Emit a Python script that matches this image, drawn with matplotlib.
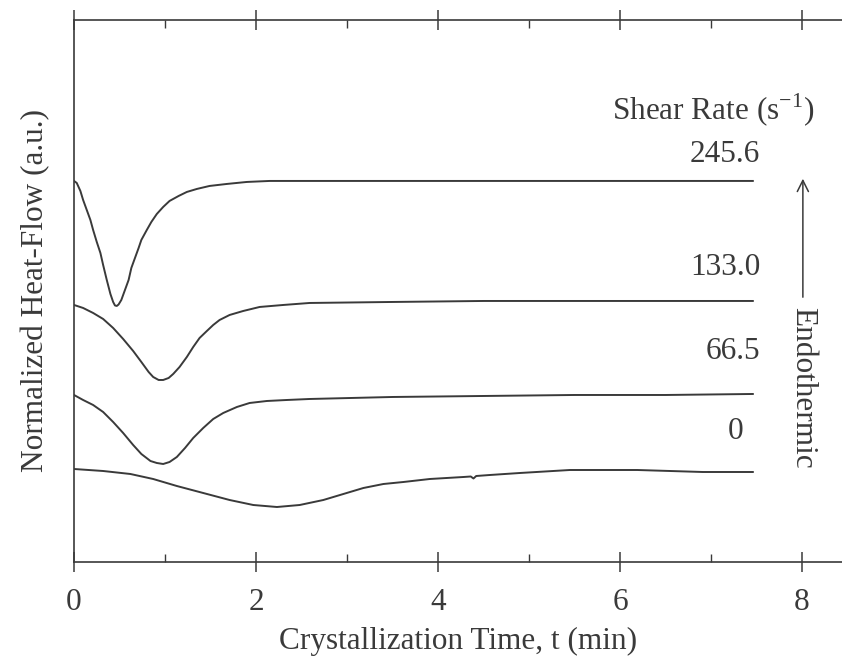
import matplotlib
matplotlib.use("Agg")
import matplotlib.pyplot as plt
from matplotlib.ticker import MultipleLocator

plt.rcParams["font.family"] = ["Liberation Serif", "DejaVu Serif"]
plt.rcParams["mathtext.fontset"] = "custom"
plt.rcParams["mathtext.rm"] = "Liberation Serif"

INK = "#3a3a3a"
FS = 22.5

# shear rate 245.6 s^-1
t_2456 = [0.00, 0.03, 0.07, 0.10, 0.14, 0.18, 0.21, 0.25, 0.29, 0.32, 0.36, 0.40,
          0.43, 0.45, 0.47, 0.49, 0.52, 0.56, 0.60, 0.63, 0.67, 0.71, 0.74, 0.80,
          0.85, 0.91, 0.98, 1.05, 1.15, 1.24, 1.35, 1.49, 1.68, 1.90, 2.15, 2.6,
          3.5, 4.5, 5.5, 6.5, 7.46]
h_2456 = [3.81, 3.79, 3.71, 3.62, 3.52, 3.42, 3.32, 3.20, 3.09, 2.97, 2.82, 2.68,
          2.60, 2.565, 2.56, 2.575, 2.62, 2.72, 2.82, 2.94, 3.04, 3.14, 3.22, 3.32,
          3.40, 3.48, 3.55, 3.61, 3.66, 3.70, 3.73, 3.76, 3.78, 3.80, 3.81, 3.81,
          3.81, 3.81, 3.81, 3.81, 3.81]

# shear rate 133.0 s^-1
t_1330 = [0.00, 0.10, 0.21, 0.32, 0.43, 0.54, 0.65, 0.74, 0.82, 0.87, 0.93, 0.98,
          1.04, 1.09, 1.16, 1.24, 1.31, 1.38, 1.46, 1.53, 1.60, 1.71, 1.86, 2.04,
          2.30, 2.59, 3.5, 4.5, 5.5, 6.5, 7.46]
h_1330 = [2.57, 2.54, 2.49, 2.43, 2.34, 2.23, 2.11, 2.00, 1.90, 1.85, 1.82, 1.82,
          1.84, 1.88, 1.95, 2.05, 2.15, 2.24, 2.31, 2.37, 2.42, 2.47, 2.51, 2.55,
          2.57, 2.59, 2.60, 2.61, 2.61, 2.61, 2.61]

# shear rate 66.5 s^-1
t_665 = [0.00, 0.10, 0.21, 0.32, 0.43, 0.54, 0.65, 0.74, 0.84, 0.91, 0.98, 1.05,
         1.13, 1.22, 1.31, 1.42, 1.53, 1.64, 1.79, 1.93, 2.12, 2.34, 2.59, 3.5,
         4.5, 5.5, 6.5, 7.46]
h_665 = [1.67, 1.62, 1.57, 1.50, 1.40, 1.29, 1.17, 1.08, 1.01, 0.99, 0.98, 1.00,
         1.05, 1.14, 1.24, 1.34, 1.43, 1.49, 1.55, 1.59, 1.61, 1.62, 1.63, 1.65,
         1.66, 1.67, 1.67, 1.68]

# quiescent (0 s^-1), small glitch near 4.4 min
t_0 = [0.00, 0.32, 0.62, 0.87, 1.13, 1.42, 1.71, 1.97, 2.23, 2.48, 2.74, 2.96,
       3.18, 3.40, 3.62, 3.91, 4.28, 4.36, 4.39, 4.42, 4.57, 4.90, 5.45, 6.19,
       6.91, 7.46]
h_0 = [0.93, 0.91, 0.88, 0.83, 0.76, 0.69, 0.62, 0.57, 0.55, 0.57, 0.62, 0.68,
       0.74, 0.78, 0.80, 0.83, 0.85, 0.855, 0.835, 0.86, 0.87, 0.89, 0.92, 0.92,
       0.90, 0.90]

curves = [(t_2456, h_2456), (t_1330, h_1330), (t_665, h_665), (t_0, h_0)]
rate_labels = ["245.6", "133.0", "66.5", "0"]
label_x = [7.54, 7.54, 7.54, 7.36]
label_y = [4.07, 2.94, 2.10, 1.30]

fig = plt.figure(figsize=(8.42, 6.64), dpi=100)
ax = fig.add_axes([0.0879, 0.1536, 0.9121, 0.8164])

for (t, h) in curves:
    ax.plot(t, h, color=INK, lw=1.4, solid_joinstyle="round")

for lab, x, y in zip(rate_labels, label_x, label_y):
    ax.text(x, y, lab, ha="right", va="center", fontsize=FS, color=INK)

ax.text(7.02, 4.52, r"Shear Rate (s$^{\mathregular{-1}}$)", ha="center", va="center",
        fontsize=FS, color=INK)

ax.annotate("", xy=(8.01, 3.86), xytext=(8.01, 2.62),
            arrowprops=dict(arrowstyle="->", color=INK, lw=1.1, mutation_scale=20))
ax.text(8.01, 1.74, "Endothermic", rotation=270, ha="center", va="center",
        fontsize=FS, color=INK)

ax.set_xlim(0, 8.44)
ax.set_ylim(0, 5.42)
ax.set_yticks([])
ax.xaxis.set_major_locator(MultipleLocator(2))
ax.xaxis.set_minor_locator(MultipleLocator(1))
ax.tick_params(axis="x", which="major", direction="inout", length=14, width=1.1,
               top=True, labelsize=FS, colors=INK, pad=12)
ax.tick_params(axis="x", which="minor", direction="in", length=6, width=1.0, top=True,
               colors=INK)
ax.spines["right"].set_visible(False)
for s in ["left", "top", "bottom"]:
    ax.spines[s].set_color(INK)
    ax.spines[s].set_linewidth(1.2)

ax.set_xlabel("Crystallization Time, t (min)", fontsize=FS, color=INK, labelpad=7)
ax.set_ylabel("Normalized Heat-Flow (a.u.)", fontsize=FS, color=INK, labelpad=17)

fig.savefig("out.png", dpi=100)
